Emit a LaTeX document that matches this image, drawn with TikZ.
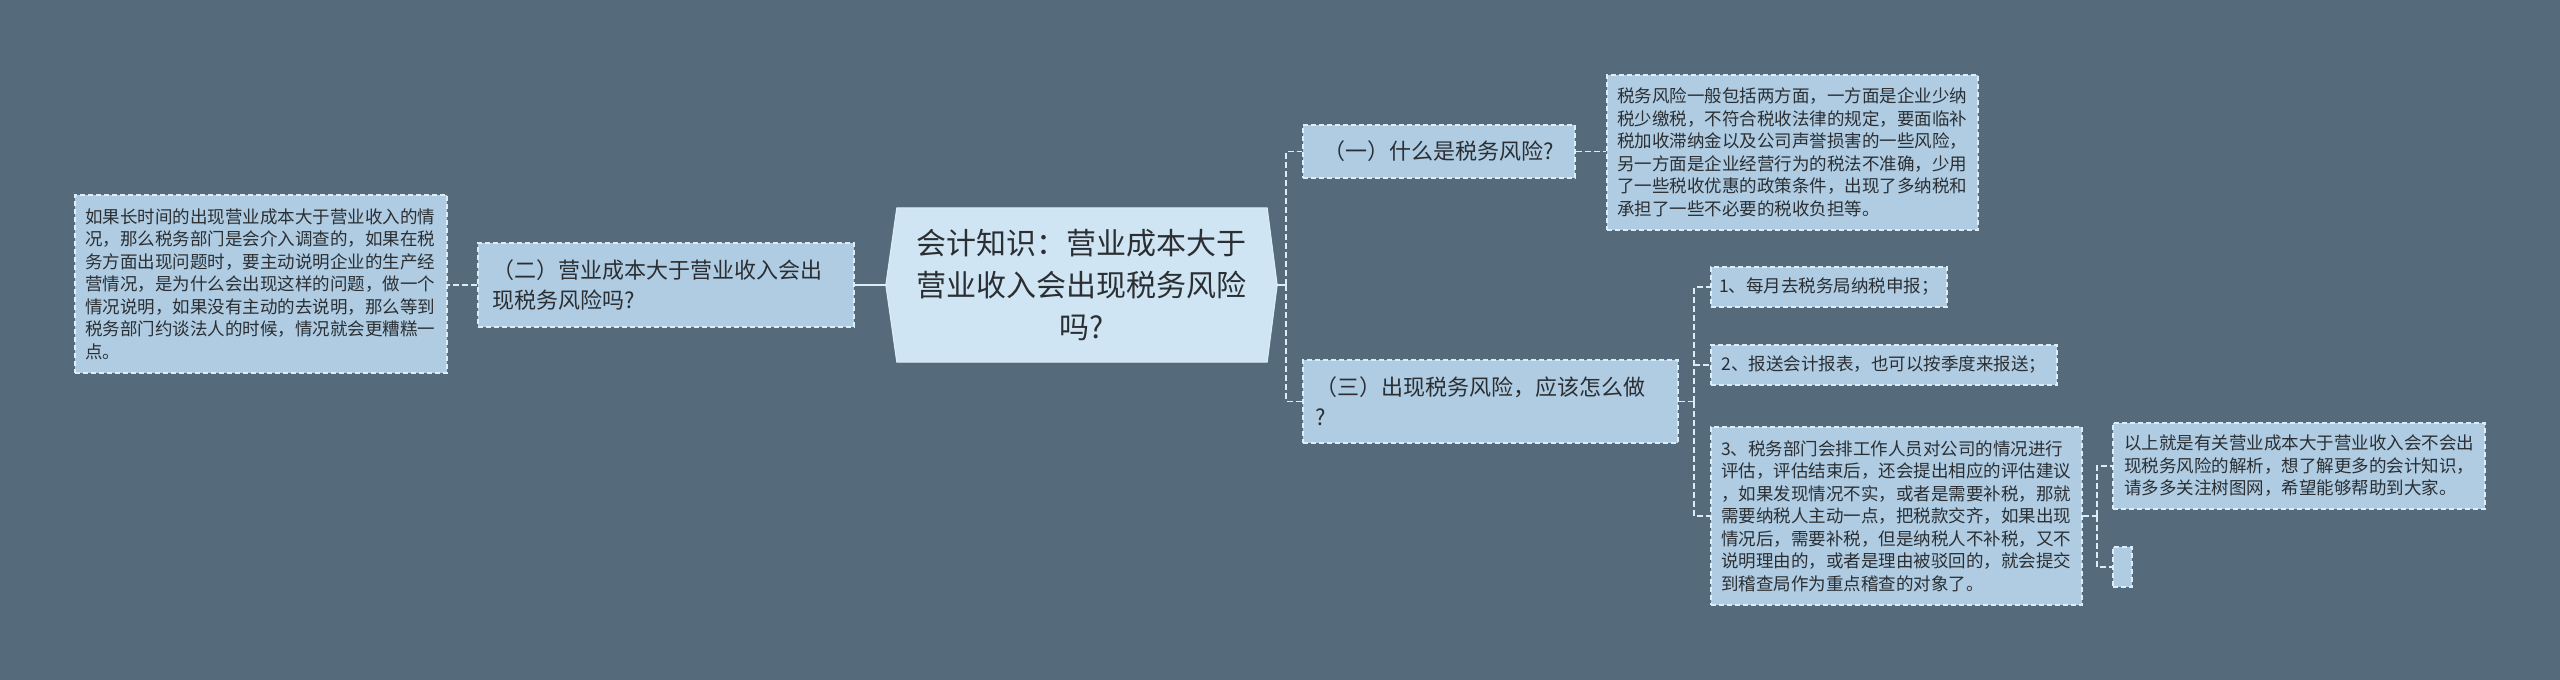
\documentclass[tikz,border=0pt]{standalone}
\usepackage{fontspec}
\setmainfont{Noto Sans CJK SC}
\usetikzlibrary{backgrounds}
\definecolor{bgcol}{HTML}{556A7A}
\definecolor{leaffill}{HTML}{AFCCE2}
\definecolor{rootfill}{HTML}{CFE5F3}
\definecolor{edgecol}{HTML}{DCEDF8}
\definecolor{linecol}{HTML}{DCEDF8}
\definecolor{txt}{HTML}{2B2F33}
\tikzset{
  boxbase/.style={draw=edgecol, fill=leaffill, line width=1.3pt, dash pattern=on 5pt off 3pt, text=txt, inner ysep=0pt},
  leaf/.style={boxbase, inner xsep=10pt, align=left, font=\fontsize{17.5}{22.5}\selectfont},
  leafone/.style={boxbase, inner xsep=0pt, align=center, font=\fontsize{17.5}{22.5}\selectfont},
  lvl/.style={boxbase, inner xsep=13pt, align=left, font=\fontsize{22}{30}\selectfont},
  rootnode/.style={inner sep=0pt, align=center, text=txt, font=\fontsize{30}{42}\selectfont},
  conn/.style={draw=linecol, line width=1.5pt, dash pattern=on 6pt off 3pt},
  rootconn/.style={draw=linecol, line width=2.2pt},
}
\begin{document}
\begin{tikzpicture}[x=1pt,y=-1pt]
\begin{scope}[on background layer]
\fill[bgcol] (0,0) rectangle (2560,680);
\end{scope}
\useasboundingbox (0,0) rectangle (2560,680);

% root
\node[rootnode, minimum width=391pt, minimum height=154pt] (root) at (1081.5,285)
  {会计知识：营业成本大于\\营业收入会出现税务风险\\吗?};
\begin{scope}[on background layer]
\filldraw[fill=rootfill, draw=edgecol, line width=1pt]
  (root.west) -- ([xshift=11pt]root.north west) -- ([xshift=-10pt]root.north east)
  -- (root.east) -- ([xshift=-10pt]root.south east) -- ([xshift=11pt]root.south west) -- cycle;
\end{scope}

% left branch
\node[lvl, inner xsep=14pt, text width=348pt, minimum height=84pt] (b2) at (666,285)
  {（二）营业成本大于营业收入会出\\现税务风险吗?};
\node[leaf, text width=352pt, minimum height=178pt] (d2) at (261,284)
  {如果长时间的出现营业成本大于营业收入的情\\况，那么税务部门是会介入调查的，如果在税\\务方面出现问题时，要主动说明企业的生产经\\营情况，是为什么会出现这样的问题，做一个\\情况说明，如果没有主动的去说明，那么等到\\税务部门约谈法人的时候，情况就会更糟糕一\\点。};

% right branch 1
\node[lvl, inner xsep=0pt, align=center, minimum width=272pt, minimum height=53pt] (b1) at (1439,151.5)
  {（一）什么是税务风险?};
\node[leaf, text width=351pt, minimum height=155pt] (d1) at (1792.5,152.5)
  {税务风险一般包括两方面，一方面是企业少纳\\税少缴税，不符合税收法律的规定，要面临补\\税加收滞纳金以及公司声誉损害的一些风险，\\另一方面是企业经营行为的税法不准确，少用\\了一些税收优惠的政策条件，出现了多纳税和\\承担了一些不必要的税收负担等。};

% right branch 3
\node[lvl, inner xsep=12pt, text width=351pt, minimum height=83pt] (b3) at (1490.5,401.5)
  {（三）出现税务风险，应该怎么做\\?};
\node[leafone, minimum width=236pt, minimum height=40pt] (i1) at (1829,287)
  {1、每月去税务局纳税申报；};
\node[leafone, minimum width=346pt, minimum height=40pt] (i2) at (1884,365)
  {2、报送会计报表，也可以按季度来报送；};
\node[leaf, text width=351pt, minimum height=178pt] (i3) at (1896.5,516)
  {3、税务部门会排工作人员对公司的情况进行\\评估，评估结束后，还会提出相应的评估建议\\，如果发现情况不实，或者是需要补税，那就\\需要纳税人主动一点，把税款交齐，如果出现\\情况后，需要补税，但是纳税人不补税，又不\\说明理由的，或者是理由被驳回的，就会提交\\到稽查局作为重点稽查的对象了。};
\node[leaf, inner xsep=11pt, text width=350pt, minimum height=86pt] (s1) at (2299,466)
  {以上就是有关营业成本大于营业收入会不会出\\现税务风险的解析，想了解更多的会计知识，\\请多多关注树图网，希望能够帮助到大家。};
\node[boxbase, inner sep=0pt, minimum width=19pt, minimum height=40pt] (s2) at (2122.5,567) {};

% connectors
\coordinate (j1) at (1286,285);
\coordinate (j3) at (1694,401.5);
\coordinate (j4) at (2097,516);
\draw[rootconn] (root.west) -- (b2.east);
\draw[conn] (b2.west) -- (d2.east |- b2.west);
\draw[rootconn] (root.east) -- (j1);
\draw[conn] (j1) |- (b1.west);
\draw[conn] (j1) |- (b3.west);
\draw[conn] (b1.east) -- (d1.west |- b1.east);
\draw[conn] (b3.east) -- (j3);
\draw[conn] (j3) |- (i1.west);
\draw[conn] (j3) |- (i2.west);
\draw[conn] (j3) |- (i3.west);
\draw[conn] (i3.east) -- (j4);
\draw[conn] (j4) |- (s1.west);
\draw[conn] (j4) |- (s2.west);
\end{tikzpicture}
\end{document}
